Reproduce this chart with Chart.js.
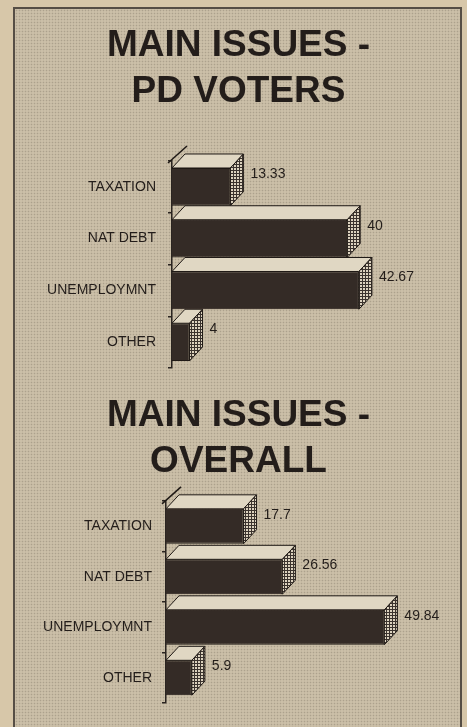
<!DOCTYPE html>
<html>
<head>
<meta charset="utf-8">
<script src="https://cdn.jsdelivr.net/npm/chart.js@4/dist/chart.umd.min.js"></script>
<style>
  html, body { margin:0; padding:0; }
  body { width:467px; height:727px; overflow:hidden; background:#d7c7a9; position:relative; }
  #frame {
    position:absolute; left:13px; top:7px; width:445px; height:740px;
    border:2px solid #564e45; border-bottom:none;
    background-color:#cbbfa8;
    background-image: radial-gradient(rgba(95,85,72,0.28) 0.7px, transparent 1.1px);
    background-size:3px 3px;
  }
  canvas { position:absolute; left:0; }
  #c1 { top:0; }
  #c2 { top:370px; }
</style>
</head>
<body>
<div id="frame"></div>
<canvas id="c1" width="467" height="370"></canvas>
<canvas id="c2" width="467" height="357"></canvas>
<script>
// ---- data ----
const categories = ['TAXATION', 'NAT DEBT', 'UNEMPLOYMNT', 'OTHER'];
const pdVotersValues = [13.33, 40, 42.67, 4];
const overallValues = [17.7, 26.56, 49.84, 5.9];
const pdVotersTitle = ['MAIN ISSUES -', 'PD VOTERS'];
const overallTitle = ['MAIN ISSUES -', 'OVERALL'];

// ---- styles ----
const INK = '#231d1a';
const BAR_FRONT = '#342b26';
const BAR_TOP = '#e0d7c3';
const DX = 13, DY = 14;
const FONT = '"Liberation Sans", Arial, Helvetica, sans-serif';

function makePattern() {
  const c = document.createElement('canvas');
  c.width = 3; c.height = 3;
  const g = c.getContext('2d');
  g.fillStyle = '#3b332e';
  g.fillRect(0, 0, 3, 3);
  g.fillStyle = '#ddd3bf';
  g.fillRect(0, 0, 2, 2);
  return g.createPattern(c, 'repeat');
}

const bars3d = {
  id: 'bars3d',
  afterDatasetsDraw(chart) {
    const ctx = chart.ctx;
    const pat = makePattern();
    const meta = chart.getDatasetMeta(0);
    const ds = chart.data.datasets[0];
    ctx.save();
    ctx.lineWidth = 1;
    ctx.strokeStyle = '#1f1915';
    meta.data.forEach((bar, i) => {
      const p = bar.getProps(['x', 'y', 'base', 'height'], true);
      const left = p.base, right = p.x;
      const top = p.y - p.height / 2, bottom = p.y + p.height / 2;
      // top face
      ctx.beginPath();
      ctx.moveTo(left, top);
      ctx.lineTo(left + DX, top - DY);
      ctx.lineTo(right + DX, top - DY);
      ctx.lineTo(right, top);
      ctx.closePath();
      ctx.fillStyle = BAR_TOP;
      ctx.fill();
      ctx.stroke();
      // side face
      ctx.beginPath();
      ctx.moveTo(right, top);
      ctx.lineTo(right + DX, top - DY);
      ctx.lineTo(right + DX, bottom - DY);
      ctx.lineTo(right, bottom);
      ctx.closePath();
      ctx.fillStyle = pat;
      ctx.fill();
      ctx.stroke();
      // value label
      ctx.fillStyle = INK;
      ctx.font = '14px ' + FONT;
      ctx.textAlign = 'left';
      ctx.textBaseline = 'middle';
      ctx.fillText(String(ds.data[i]), right + DX + 7, top + 6);
      if (i === 0) {
        // back wall edge above the axis
        ctx.beginPath();
        ctx.moveTo(left - 4, top - 5);
        ctx.lineTo(left + DX + 2, top - DY - 8);
        ctx.lineWidth = 1.5;
        ctx.stroke();
        ctx.lineWidth = 1;
      }
    });
    ctx.restore();
  }
};

function makeChart(id, title, values, o) {
  return new Chart(document.getElementById(id), {
    type: 'bar',
    data: {
      labels: categories,
      datasets: [{
        data: values,
        backgroundColor: BAR_FRONT,
        borderColor: '#1f1915',
        borderWidth: 1,
        barPercentage: o.barPct,
        categoryPercentage: 1
      }]
    },
    options: {
      indexAxis: 'y',
      responsive: false,
      animation: false,
      devicePixelRatio: 1,
      layout: { padding: { left: o.padLeft, right: 0, top: 0, bottom: o.padBottom } },
      plugins: {
        legend: { display: false },
        tooltip: { enabled: false },
        title: {
          display: true,
          text: title,
          color: INK,
          font: { family: FONT, size: 37, weight: 'bold', lineHeight: 46 / 37 },
          padding: { top: o.titleTop, bottom: o.titleBottom }
        }
      },
      scales: {
        x: { display: false, min: 0, max: o.xMax },
        y: {
          afterFit(scale) {
            scale.width = o.axisX - o.padLeft;
            scale.paddingTop = 0;
            scale.paddingBottom = 0;
          },
          ticks: {
            color: INK,
            font: { family: FONT, size: 14 },
            padding: o.tickPad
          },
          grid: {
            display: true,
            drawOnChartArea: false,
            drawTicks: true,
            tickLength: 4,
            color: '#2a2420',
            lineWidth: 1.5,
            offset: true
          },
          border: { display: true, color: '#2a2420', width: 1.5 }
        }
      }
    },
    plugins: [bars3d]
  });
}

makeChart('c1', pdVotersTitle, pdVotersValues, {
  padLeft: 10, padBottom: 2, titleTop: 23, titleBottom: 46,
  axisX: 172, xMax: 67.35, tickPad: 12, barPct: 0.73
});
makeChart('c2', overallTitle, overallValues, {
  padLeft: 10, padBottom: 24, titleTop: 23, titleBottom: 16,
  axisX: 166, xMax: 68.7, tickPad: 10, barPct: 0.69
});
</script>
</body>
</html>
